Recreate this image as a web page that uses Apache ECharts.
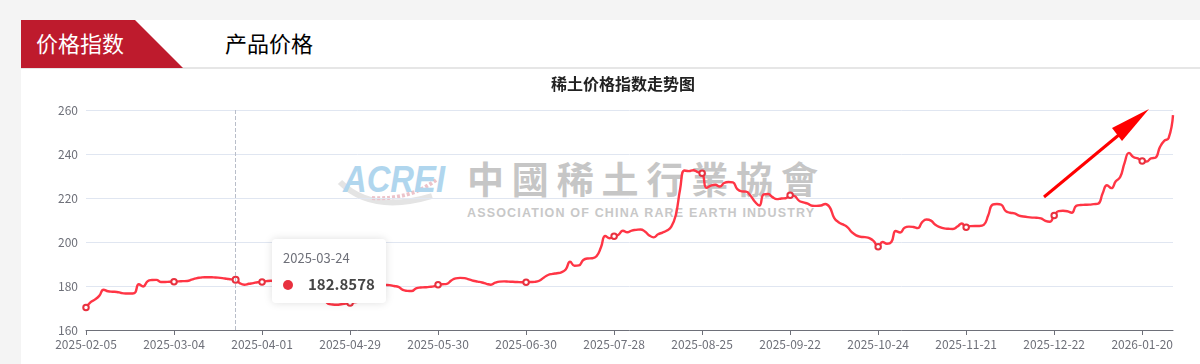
<!DOCTYPE html>
<html>
<head>
<meta charset="utf-8">
<script src="https://cdn.jsdelivr.net/npm/echarts@6/dist/echarts.min.js"></script>
<style>
html,body{margin:0;padding:0;width:1200px;height:364px;background:#f4f4f4;overflow:hidden;font-family:"Noto Sans CJK SC",sans-serif;}
#under{position:absolute;left:0;top:0;width:1200px;height:364px;z-index:1;}
#chart{position:absolute;left:0;top:0;width:1200px;height:364px;z-index:2;}
</style>
</head>
<body>
<svg id="under" width="1200" height="364" xmlns="http://www.w3.org/2000/svg">
  <rect x="21" y="20" width="1179" height="344" fill="#ffffff"/>
  <rect x="21" y="67" width="1179" height="2" fill="#e6e6e6"/>
  <polygon points="21,20 135,20 183,68 21,68" fill="#be1b2d"/>
  <text x="36" y="52" font-size="22" fill="#ffffff" font-family="Noto Sans CJK SC">价格指数</text>
  <text x="225" y="52" font-size="22" fill="#000000" font-family="Noto Sans CJK SC">产品价格</text>
  <!-- watermark -->
  <path d="M340,182 Q372,214 432,196" stroke="#e4e4e4" stroke-width="6" fill="none"/>
  <path d="M372,198 Q410,200 436,180" stroke="#ecc3ca" stroke-width="4" stroke-dasharray="3,2" fill="none"/>
  <text x="343" y="192" font-size="36" font-style="italic" font-weight="bold" fill="#b0d6ee" font-family="Liberation Sans" textLength="102" lengthAdjust="spacingAndGlyphs">ACREI</text>
  <text x="467" y="194" font-size="37" font-weight="bold" fill="#c6c6c6" font-family="Noto Sans CJK TC" textLength="351" lengthAdjust="spacing">中國稀土行業協會</text>
  <text x="467" y="217" font-size="12.5" font-weight="bold" fill="#c8c8c8" font-family="Liberation Sans" textLength="347" lengthAdjust="spacing">ASSOCIATION OF CHINA RARE EARTH INDUSTRY</text>
</svg>
<div id="chart"></div>
<script>
const chartTitle = '稀土价格指数走势图';
const dates = [
'2025-02-05','2025-02-06','2025-02-07','2025-02-08','2025-02-10','2025-02-11','2025-02-12','2025-02-13','2025-02-14','2025-02-17',
'2025-02-18','2025-02-19','2025-02-20','2025-02-21','2025-02-24','2025-02-25','2025-02-26','2025-02-27','2025-02-28','2025-03-03',
'2025-03-04','2025-03-05','2025-03-06','2025-03-07','2025-03-10','2025-03-11','2025-03-12','2025-03-13','2025-03-14','2025-03-17',
'2025-03-18','2025-03-19','2025-03-20','2025-03-21','2025-03-24','2025-03-25','2025-03-26','2025-03-27','2025-03-28','2025-03-31',
'2025-04-01','2025-04-02','2025-04-03','2025-04-07','2025-04-08','2025-04-09','2025-04-10','2025-04-11','2025-04-14','2025-04-15',
'2025-04-16','2025-04-17','2025-04-18','2025-04-21','2025-04-22','2025-04-23','2025-04-24','2025-04-25','2025-04-27','2025-04-28',
'2025-04-29','2025-04-30','2025-05-06','2025-05-07','2025-05-08','2025-05-09','2025-05-12','2025-05-13','2025-05-14','2025-05-15',
'2025-05-16','2025-05-19','2025-05-20','2025-05-21','2025-05-22','2025-05-23','2025-05-26','2025-05-27','2025-05-28','2025-05-29',
'2025-05-30','2025-06-03','2025-06-04','2025-06-05','2025-06-06','2025-06-09','2025-06-10','2025-06-11','2025-06-12','2025-06-13',
'2025-06-16','2025-06-17','2025-06-18','2025-06-19','2025-06-20','2025-06-23','2025-06-24','2025-06-25','2025-06-26','2025-06-27',
'2025-06-30','2025-07-01','2025-07-02','2025-07-03','2025-07-04','2025-07-07','2025-07-08','2025-07-09','2025-07-10','2025-07-11',
'2025-07-14','2025-07-15','2025-07-16','2025-07-17','2025-07-18','2025-07-21','2025-07-22','2025-07-23','2025-07-24','2025-07-25',
'2025-07-28','2025-07-29','2025-07-30','2025-07-31','2025-08-01','2025-08-04','2025-08-05','2025-08-06','2025-08-07','2025-08-08',
'2025-08-11','2025-08-12','2025-08-13','2025-08-14','2025-08-15','2025-08-18','2025-08-19','2025-08-20','2025-08-21','2025-08-22',
'2025-08-25','2025-08-26','2025-08-27','2025-08-28','2025-08-29','2025-09-01','2025-09-02','2025-09-03','2025-09-04','2025-09-05',
'2025-09-08','2025-09-09','2025-09-10','2025-09-11','2025-09-12','2025-09-15','2025-09-16','2025-09-17','2025-09-18','2025-09-19',
'2025-09-22','2025-09-23','2025-09-24','2025-09-25','2025-09-26','2025-09-28','2025-09-29','2025-09-30','2025-10-09','2025-10-10',
'2025-10-11','2025-10-13','2025-10-14','2025-10-15','2025-10-16','2025-10-17','2025-10-20','2025-10-21','2025-10-22','2025-10-23',
'2025-10-24','2025-10-27','2025-10-28','2025-10-29','2025-10-30','2025-10-31','2025-11-03','2025-11-04','2025-11-05','2025-11-06',
'2025-11-07','2025-11-10','2025-11-11','2025-11-12','2025-11-13','2025-11-14','2025-11-17','2025-11-18','2025-11-19','2025-11-20',
'2025-11-21','2025-11-24','2025-11-25','2025-11-26','2025-11-27','2025-12-01','2025-12-02','2025-12-03','2025-12-04','2025-12-05',
'2025-12-08','2025-12-09','2025-12-10','2025-12-11','2025-12-12','2025-12-15','2025-12-16','2025-12-17','2025-12-18','2025-12-19',
'2025-12-22','2025-12-23','2025-12-24','2025-12-25','2025-12-26','2025-12-29','2025-12-30','2025-12-31','2026-01-04','2026-01-05',
'2026-01-06','2026-01-07','2026-01-08','2026-01-09','2026-01-12','2026-01-13','2026-01-14','2026-01-15','2026-01-16','2026-01-19',
'2026-01-20','2026-01-21','2026-01-22','2026-01-23','2026-01-26','2026-01-27','2026-01-28','2026-01-29'
];
const indexValues = [
170.2,172.6,173.8,175.5,178.3,177.6,177.4,177.3,176.8,176.6,
176.6,176.8,180.8,179.8,182.2,182.7,182.8,181.8,181.8,181.9,
181.9,182.1,182.2,182.3,182.9,183.5,183.8,184.0,184.0,183.9,
183.8,183.6,183.3,183.0,182.8578,181.2,180.6,181.0,181.3,181.7,
181.8,182.2,182.4,182.2,181.8,181.5,181.0,180.6,180.2,179.6,
179.0,178.3,177.5,176.2,174.6,172.0,171.6,171.5,171.7,172.0,
172.3,172.6,173.0,174.5,177.0,179.5,180.6,180.7,180.5,180.4,
180.0,179.6,178.2,177.8,177.7,178.9,179.3,179.4,179.6,179.8,
180.6,180.8,181.0,182.5,183.5,183.7,183.6,183.0,182.4,182.0,
181.6,181.0,180.6,181.5,182.0,182.1,182.0,181.9,181.8,181.7,
181.7,181.8,181.9,182.4,183.8,185.0,185.5,185.8,186.2,187.5,
191.0,189.2,189.4,191.8,192.5,192.6,193.5,197.5,202.7,201.7,
202.6,203.3,205.1,204.4,205.2,205.5,205.7,204.8,203.0,202.1,
203.5,204.3,205.2,207.0,212.0,224.0,232.5,232.2,232.6,231.8,
231.2,224.6,225.6,226.0,225.2,226.8,227.3,227.1,224.0,223.0,
222.9,221.0,218.3,216.6,221.6,221.8,220.4,219.5,219.8,219.9,
221.3,220.9,218.8,218.0,217.4,216.5,216.4,216.6,217.3,215.8,
211.0,209.0,208.0,206.8,204.5,203.0,202.4,202.2,201.8,200.4,
197.8,200.0,199.2,200.0,205.0,204.3,206.5,207.0,206.8,206.3,
209.0,210.2,209.7,207.8,206.8,206.2,206.0,205.9,207.0,208.4,
206.7,207.2,207.3,207.3,207.8,212.0,217.0,217.3,216.9,214.0,
213.3,213.0,212.0,211.6,211.3,211.1,211.0,210.7,209.6,209.2,
212.0,214.0,214.2,214.0,213.3,216.4,216.8,216.9,217.0,217.2,
217.4,222.0,225.8,224.5,227.6,229.5,236.0,240.5,238.6,238.0,
236.8,236.6,238.0,238.3,243.0,246.0,247.2,257.7
];
const yMin = 160, yMax = 260, yStep = 20;
const tipIndex = 34;

const chart = echarts.init(document.getElementById('chart'), null, {renderer: 'canvas'});
chart.setOption({
  animation: false,
  backgroundColor: 'transparent',
  textStyle: {fontFamily: 'Noto Sans CJK SC, sans-serif'},
  title: {
    text: chartTitle, left: 546, top: 71,
    textStyle: {fontSize: 16, fontWeight: 'bold', color: '#222'}
  },
  grid: {left: 86, right: 27, top: 110, bottom: 34},
  tooltip: {
    trigger: 'axis',
    alwaysShowContent: true,
    position: [272, 239],
    backgroundColor: '#fff',
    borderWidth: 0,
    padding: [12, 11, 11, 11],
    extraCssText: 'box-shadow:0 0 8px rgba(0,0,0,0.13);border-radius:4px;',
    axisPointer: {type: 'line', lineStyle: {color: '#b9bec9', type: 'dashed', width: 1}},
    formatter: function (params) {
      const p = params[0];
      return '<div style="font-size:13px;color:#6e7079;line-height:14px;">' + p.name + '</div>' +
        '<div style="margin-top:11px;line-height:16px;white-space:nowrap;">' +
        '<span style="display:inline-block;width:10px;height:10px;border-radius:5px;background:#e8313f;vertical-align:middle;margin-top:-3px;"></span>' +
        '<span style="margin-left:15px;font-size:15px;font-weight:bold;color:#464646;">' + p.value + '</span></div>';
    }
  },
  xAxis: {
    type: 'category',
    data: dates,
    boundaryGap: false,
    axisLine: {lineStyle: {color: '#6e7079'}},
    axisTick: {interval: 19},
    axisLabel: {interval: 19, color: '#6e7079', fontSize: 12, margin: 8}
  },
  yAxis: {
    type: 'value',
    min: yMin, max: yMax, interval: yStep,
    axisLabel: {color: '#6e7079', fontSize: 12, margin: 8},
    splitLine: {lineStyle: {color: '#e0e6f1'}}
  },
  series: [{
    name: '',
    type: 'line',
    data: indexValues,
    smooth: true,
    symbol: 'emptyCircle',
    symbolSize: 5.5,
    showAllSymbol: 'auto',
    lineStyle: {color: '#e8313f', width: 2.4},
    itemStyle: {color: '#e8313f', borderWidth: 1.6}
  }],
  graphic: [
    {type: 'line', shape: {x1: 1044, y1: 197, x2: 1120, y2: 134}, style: {stroke: '#ff0000', lineWidth: 3}, z: 100},
    {type: 'polygon', shape: {points: [[1149, 109], [1112, 128], [1122, 141]]}, style: {fill: '#ff0000'}, z: 100}
  ]
});
chart.dispatchAction({type: 'showTip', seriesIndex: 0, dataIndex: tipIndex});
</script>
</body>
</html>
